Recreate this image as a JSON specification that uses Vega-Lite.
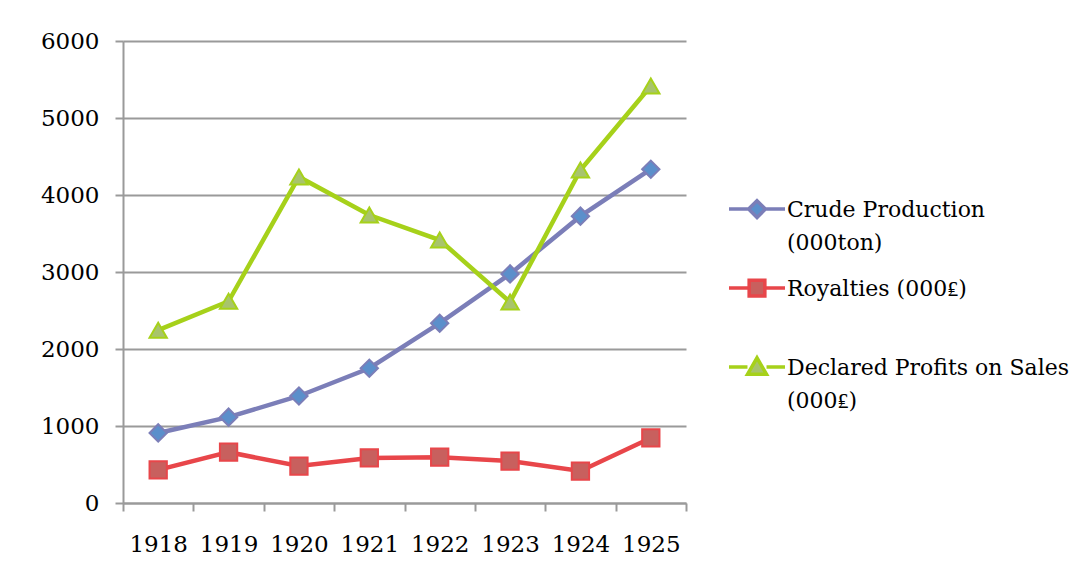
{
  "$schema": "https://vega.github.io/schema/vega-lite/v6.json",
  "autosize": {"type": "none"},
  "width": 563,
  "height": 462,
  "padding": {"left": 123, "top": 41, "right": 394, "bottom": 80},
  "background": "white",
  "config": {
    "view": {"stroke": null},
    "font": "DejaVu Serif",
    "axis": {
      "labelFont": "DejaVu Serif",
      "labelFontSize": 23,
      "labelColor": "#000000",
      "domainColor": "#9a9a9a",
      "domainWidth": 2,
      "tickColor": "#9a9a9a",
      "tickWidth": 2,
      "gridColor": "#9a9a9a",
      "gridWidth": 2,
      "title": null
    },
    "legend": {
      "labelFont": "DejaVu Serif",
      "labelFontSize": 22,
      "labelColor": "#000000",
      "labelLimit": 0
    }
  },
  "data": {
    "values": [
      {"year": "1918", "series": "Crude Production (000ton)", "value": 910},
      {"year": "1919", "series": "Crude Production (000ton)", "value": 1115},
      {"year": "1920", "series": "Crude Production (000ton)", "value": 1390},
      {"year": "1921", "series": "Crude Production (000ton)", "value": 1750},
      {"year": "1922", "series": "Crude Production (000ton)", "value": 2335},
      {"year": "1923", "series": "Crude Production (000ton)", "value": 2975},
      {"year": "1924", "series": "Crude Production (000ton)", "value": 3725},
      {"year": "1925", "series": "Crude Production (000ton)", "value": 4335},
      {"year": "1918", "series": "Royalties (000₤)", "value": 430},
      {"year": "1919", "series": "Royalties (000₤)", "value": 660},
      {"year": "1920", "series": "Royalties (000₤)", "value": 480},
      {"year": "1921", "series": "Royalties (000₤)", "value": 585},
      {"year": "1922", "series": "Royalties (000₤)", "value": 595},
      {"year": "1923", "series": "Royalties (000₤)", "value": 545},
      {"year": "1924", "series": "Royalties (000₤)", "value": 415},
      {"year": "1925", "series": "Royalties (000₤)", "value": 845},
      {"year": "1918", "series": "Declared Profits on Sales (000₤)", "value": 2245},
      {"year": "1919", "series": "Declared Profits on Sales (000₤)", "value": 2620},
      {"year": "1920", "series": "Declared Profits on Sales (000₤)", "value": 4235},
      {"year": "1921", "series": "Declared Profits on Sales (000₤)", "value": 3740},
      {"year": "1922", "series": "Declared Profits on Sales (000₤)", "value": 3415},
      {"year": "1923", "series": "Declared Profits on Sales (000₤)", "value": 2610},
      {"year": "1924", "series": "Declared Profits on Sales (000₤)", "value": 4325},
      {"year": "1925", "series": "Declared Profits on Sales (000₤)", "value": 5415}
    ]
  },
  "encoding": {
    "x": {
      "field": "year",
      "type": "ordinal",
      "bandPosition": 0.5,
      "scale": {"type": "band", "paddingInner": 0, "paddingOuter": 0},
      "axis": {
        "labelAngle": 0,
        "tickBand": "extent",
        "tickSize": 8,
        "labelPadding": 22,
        "grid": false
      }
    },
    "y": {
      "field": "value",
      "type": "quantitative",
      "scale": {"domain": [0, 6000], "nice": false},
      "axis": {
        "values": [0, 1000, 2000, 3000, 4000, 5000, 6000],
        "format": "d",
        "tickSize": 8,
        "labelPadding": 16,
        "grid": true
      }
    }
  },
  "layer": [
    {
      "mark": {"type": "line", "strokeWidth": 4.5},
      "encoding": {
        "stroke": {
          "field": "series",
          "type": "nominal",
          "scale": {
            "domain": ["Crude Production (000ton)", "Royalties (000₤)", "Declared Profits on Sales (000₤)"],
            "range": ["#7b7eb8", "#e8464a", "#a6d11a"]
          },
          "legend": {
            "orient": "none",
            "legendX": 604,
            "legendY": 142,
            "title": null,
            "symbolSize": 3136,
            "symbolStrokeWidth": 3.5,
            "labelOffset": 0,
            "rowPadding": 8,
            "labelBaseline": "top",
            "labelExpr": "datum.value == 'Crude Production (000ton)' ? ['Crude Production', '(000ton)'] : datum.value == 'Royalties (000₤)' ? ['Royalties (000₤)', ' '] : ['Declared Profits on Sales', '(000₤)']",
            "encode": {
              "labels": {"update": {"lineHeight": {"value": 33}, "dy": {"value": -13}}},
              "symbols": {
                "update": {
                  "shape": {"signal": "datum.value == 'Crude Production (000ton)' ? 'M-1,-0.14L-0.3,-0.14M0.3,-0.14L1,-0.14M-0.3,-0.14L0,-0.44L0.3,-0.14L0,0.16Z' : datum.value == 'Royalties (000₤)' ? 'M-1,-0.14L-0.28,-0.14M0.28,-0.14L1,-0.14M-0.28,-0.42L0.28,-0.42L0.28,0.14L-0.28,0.14Z' : 'M-1,-0.14L-0.34,-0.14M0.34,-0.14L1,-0.14M-0.34,0.12L0,-0.47L0.34,0.12Z'"},
                  "fill": {"signal": "datum.value == 'Crude Production (000ton)' ? '#5b8fcb' : datum.value == 'Royalties (000₤)' ? '#c8605e' : '#a8c46c'"},
                  "fillOpacity": {"value": 1}
                }
              }
            }
          }
        }
      }
    },
    {
      "mark": {"type": "point", "filled": true, "opacity": 1, "strokeWidth": 2, "size": 300},
      "encoding": {
        "stroke": {
          "condition": [
            {"test": "datum.series == 'Crude Production (000ton)'", "value": "#7b7eb8"},
            {"test": "datum.series == 'Royalties (000₤)'", "value": "#e8464a"}
          ],
          "value": "#a6d11a"
        },
        "fill": {
          "condition": [
            {"test": "datum.series == 'Crude Production (000ton)'", "value": "#5b8fcb"},
            {"test": "datum.series == 'Royalties (000₤)'", "value": "#c8605e"}
          ],
          "value": "#a8c46c"
        },
        "shape": {
          "condition": [
            {"test": "datum.series == 'Crude Production (000ton)'", "value": "diamond"},
            {"test": "datum.series == 'Royalties (000₤)'", "value": "square"}
          ],
          "value": "triangle-up"
        }
      }
    }
  ]
}
